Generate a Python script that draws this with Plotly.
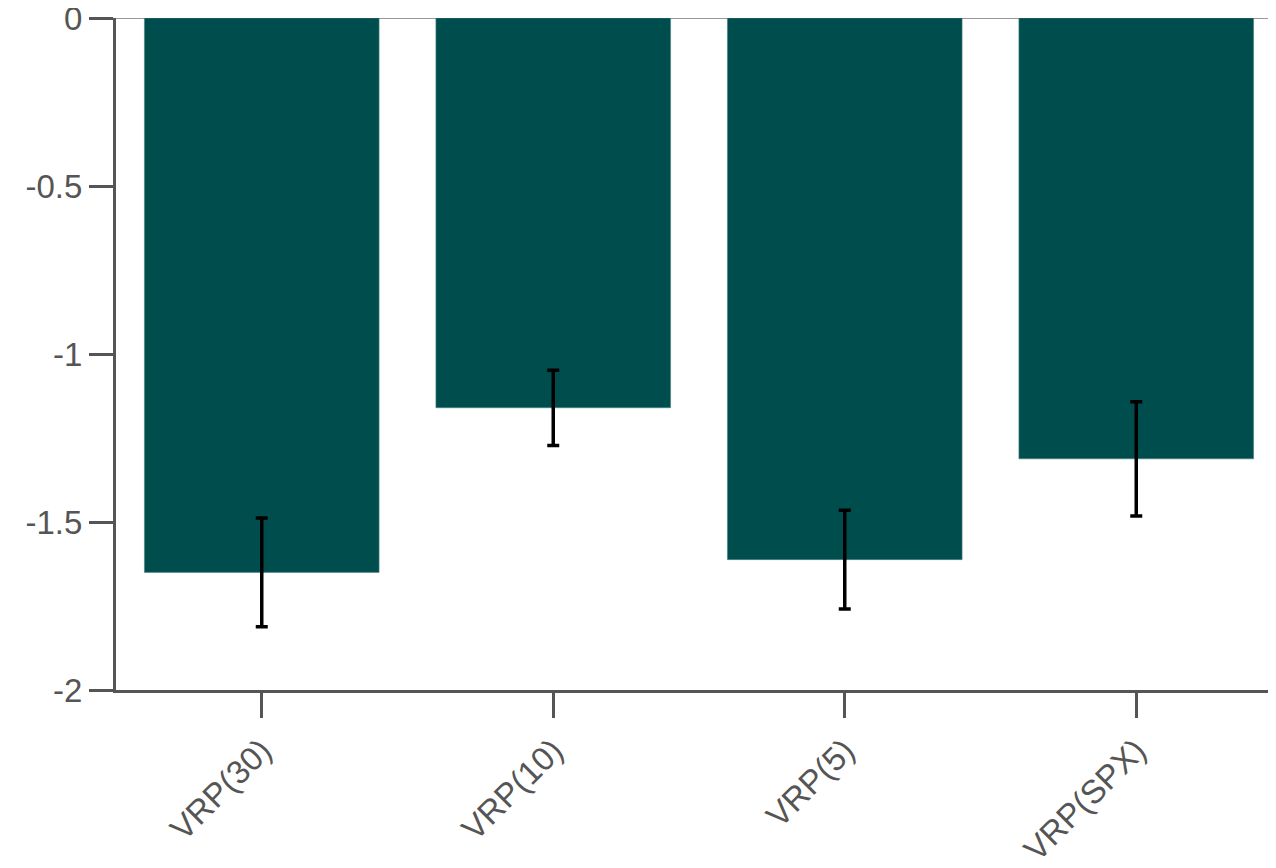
import plotly.graph_objects as go

categories = ["VRP(30)", "VRP(10)", "VRP(5)", "VRP(SPX)"]
values = [-1.65, -1.16, -1.612, -1.312]
errors = [0.162, 0.112, 0.147, 0.170]

fig = go.Figure()
fig.add_trace(go.Bar(
    x=list(range(len(categories))),
    y=values,
    width=0.805,
    marker=dict(color="#004d4d", line=dict(color="#4f8585", width=0.6)),
    error_y=dict(type="data", array=errors, visible=True,
                 color="black", thickness=3.5, width=6),
))

axis_color = "#555555"
tick_font = dict(family="Liberation Sans, Arial, sans-serif", size=33, color=axis_color)
fig.update_layout(
    width=1276, height=868,
    margin=dict(l=108, r=2, t=10, b=186),
    plot_bgcolor="white", paper_bgcolor="white",
    showlegend=False,
    font=tick_font,
    xaxis=dict(
        tickmode="array", tickvals=list(range(len(categories))), ticktext=categories,
        range=[-0.5, 3.5], tickangle=-45, tickfont=tick_font, automargin=False,
        ticklabeloverflow="allow",
        showline=True, linecolor=axis_color, linewidth=3,
        ticks="outside", ticklen=25, tickwidth=3, tickcolor=axis_color,
        showgrid=False, zeroline=False,
    ),
    yaxis=dict(
        range=[-2, 0], tickvals=[0, -0.5, -1, -1.5, -2],
        ticktext=["0", "-0.5", "-1", "-1.5", "-2"], tickfont=tick_font, automargin=False,
        ticklabeloverflow="allow",
        showline=True, linecolor=axis_color, linewidth=3,
        ticks="outside", ticklen=24, tickwidth=3, tickcolor=axis_color,
        showgrid=False, zeroline=True, zerolinecolor="#999999", zerolinewidth=1,
    ),
)

fig.write_html("out.html")
